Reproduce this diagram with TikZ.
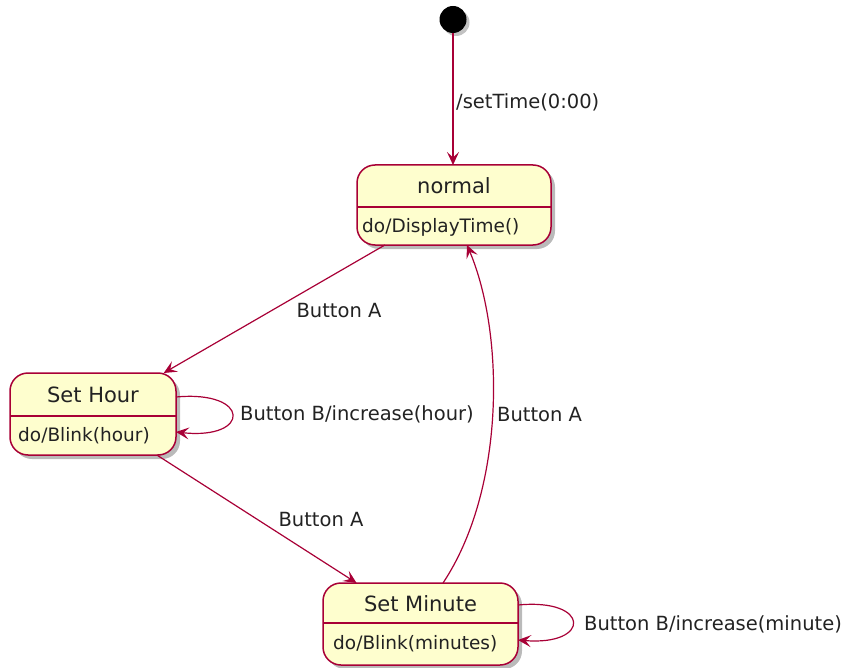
\documentclass[tikz,border=0pt]{standalone}
\usepackage{fontspec}
\setmainfont{DejaVu Sans}
\usetikzlibrary{arrows.meta,shadows,calc}
\definecolor{umlred}{HTML}{A80036}
\definecolor{umlfill}{HTML}{FEFECE}
\definecolor{txt}{HTML}{222222}
\tikzset{
  statebox/.style={draw=umlred, fill=umlfill, line width=1.5pt, rounded corners=18pt,
    inner sep=0pt, outer sep=0pt,
    drop shadow={shadow xshift=4pt, shadow yshift=-4pt, opacity=0.45, fill=black!60}},
  divider/.style={draw=umlred, line width=1.3pt},
  titletext/.style={inner sep=0pt, text=txt, font=\fontsize{21}{25}\selectfont},
  desctext/.style={inner sep=0pt, anchor=west, text=txt, font=\fontsize{18.5}{22}\selectfont},
  lbl/.style={inner sep=0pt, text=txt, font=\fontsize{19.5}{23}\selectfont},
  trans/.style={draw=umlred, line width=1.2pt,
    -{Stealth[length=13pt,width=12pt,inset=5.5pt]}},
  initstate/.style={circle, fill=black, minimum size=27pt, inner sep=0pt, outer sep=0pt,
    drop shadow={shadow xshift=3pt, shadow yshift=-3pt, opacity=0.4, fill=black!60}}
}
\begin{document}
\begin{tikzpicture}[x=1pt,y=-1pt]
\useasboundingbox (0,0) rectangle (845,668);

% initial state
\node[initstate] (init) at (453,19.5) {};

% states
\node[statebox, minimum width=194pt, minimum height=80pt] (normal) at (454,205) {};
\node[statebox, minimum width=166pt, minimum height=82pt] (hour) at (93,414) {};
\node[statebox, minimum width=195pt, minimum height=82pt] (minute) at (420.5,624) {};

% dividers
\draw[divider] ($(normal.north west)+(0,42)$) -- ($(normal.north east)+(0,42)$);
\draw[divider] ($(hour.north west)+(0,43)$) -- ($(hour.north east)+(0,43)$);
\draw[divider] ($(minute.north west)+(0,40)$) -- ($(minute.north east)+(0,40)$);

% texts in states
\node[titletext] (normalT) at ($(normal.north)+(0,21)$) {normal};
\node[desctext] (normalD) at ($(normal.north west)+(5,62)$) {do/DisplayTime()};
\node[titletext] (hourT) at ($(hour.north)+(0,22)$) {Set Hour};
\node[desctext] (hourD) at ($(hour.north west)+(8,63)$) {do/Blink(hour)};
\node[titletext] (minuteT) at ($(minute.north)+(0,21)$) {Set Minute};
\node[desctext] (minuteD) at ($(minute.north west)+(10,61)$) {do/Blink(minutes)};

% transitions
\draw[trans] (init) -- (init |- normal.north);
\node[lbl, anchor=west] (l0) at (456,102) {/setTime(0:00)};

\draw[trans] (normal) -- (hour);
\node[lbl] (l1) at (339,311) {Button A};

\draw[trans] (hour) -- (minute);
\node[lbl] (l2) at (321,520) {Button A};

\coordinate (mstart) at ($(minute.north)+(22.5,0)$);
\coordinate (nend) at ($(normal.south)+(13,0)$);
\draw[trans] (mstart) .. controls (505,490) and (505,335) .. (nend);
\node[lbl, anchor=west] (l3) at (497,415) {Button A};

\coordinate (hs) at ($(hour.east)+(0,-17)$);
\coordinate (he) at ($(hour.east)+(0,18)$);
\draw[trans] (hs) .. controls (251,390) and (251,440) .. (he);
\node[lbl, anchor=west] (l4) at (240,414) {Button B/increase(hour)};

\coordinate (ms) at ($(minute.east)+(0,-19)$);
\coordinate (me) at ($(minute.east)+(0,16)$);
\draw[trans] (ms) .. controls (591,598) and (591,646) .. (me);
\node[lbl, anchor=west] (l5) at (584,624) {Button B/increase(minute)};
\end{tikzpicture}
\end{document}
